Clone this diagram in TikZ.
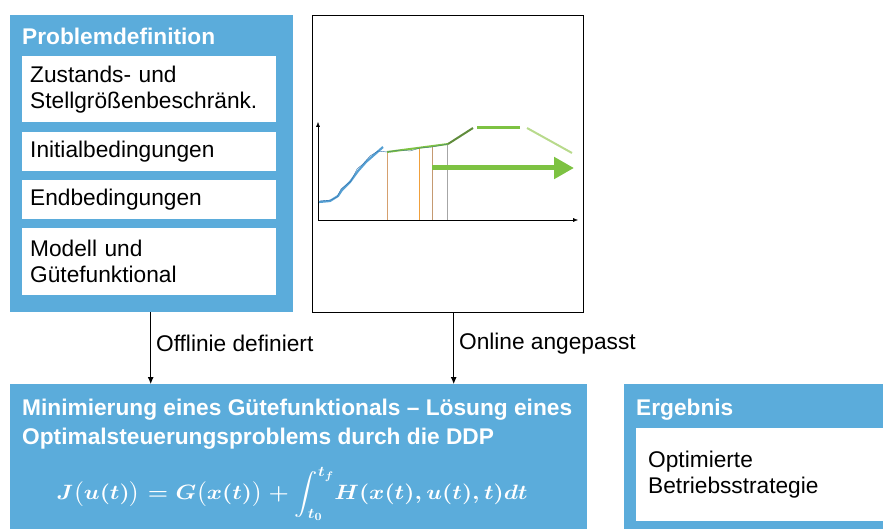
\documentclass[tikz,border=0pt]{standalone}
\usepackage{fontspec}
\setmainfont{Liberation Sans}
\usepackage{amsmath}
\usepackage{graphicx}
\usetikzlibrary{arrows.meta,positioning}

\definecolor{boxblue}{RGB}{91,172,219}
\definecolor{curveblue}{RGB}{86,160,211}
\definecolor{darkblue}{RGB}{46,110,170}
\definecolor{optgreen}{RGB}{125,194,66}
\definecolor{darkgreen}{RGB}{96,140,60}
\definecolor{palegreen}{RGB}{184,218,140}
\definecolor{tan}{RGB}{214,160,110}
\definecolor{orng}{RGB}{240,160,60}

\tikzset{
  bluebox/.style={fill=boxblue, inner sep=0pt, anchor=north west},
  whitebox/.style={fill=white, inner xsep=8pt, inner ysep=0pt, anchor=north west,
    text width=238pt, align=left, font=\fontsize{22.7}{26}\selectfont},
  boxtitle/.style={text=white, font=\fontsize{22.7}{29}\selectfont\bfseries, anchor=base west, inner sep=0pt},
  label/.style={font=\fontsize{22.7}{26}\selectfont, inner sep=0pt},
  flow/.style={-{Latex[length=7pt,width=6pt]}, thick}
}

\begin{document}
\begin{tikzpicture}[x=1pt,y=-1pt]
\useasboundingbox (0,0) rectangle (883,529);

% Problemdefinition
\node [bluebox, minimum width=283pt, minimum height=297pt] (prob) at (10,15) {};
\node [boxtitle] (probtitle) at (22,45) {Problemdefinition};
\node [whitebox, minimum height=66pt] (zust) at (22,56) {Zustands- und\\Stellgrößenbeschränk.};
\node [whitebox, minimum height=39pt] (init) at (22,132) {Initialbedingungen};
\node [whitebox, minimum height=39pt] (endb) at (22,180) {Endbedingungen};
\node [whitebox, minimum height=67pt] (modell) at (22,228) {Modell und\\Gütefunktional};

% Diagramm
\node [draw, inner sep=0pt, anchor=north west, minimum width=271pt, minimum height=297pt] (chart) at (312,15) {};
\draw [-{Latex[length=5pt,width=4pt]}] (318,220) -- (318,122);
\draw [-{Latex[length=5pt,width=4pt]}] (318,220) -- (578,220);
\draw [tan, thick] (387,152) -- (387,220);
\draw [orng, thick] (419,148) -- (419,220);
\draw [tan!80!gray, thick] (432,147) -- (432,220);
\draw [gray!70, thick] (447,144) -- (447,220);
\draw [curveblue, line width=2.2pt] (319,202) -- (330,201) -- (338,196) -- (342,190)
  -- (350,182) -- (358,171) -- (366,162) -- (374,155) -- (383,147);
\draw [darkblue, thin] (320,201) -- (331,200) -- (337,197) -- (341,189) -- (351,181)
  -- (357,169) -- (363,164) -- (370,156) -- (378,151) -- (387,152);
\draw [optgreen, line width=2pt] (387,152) -- (448,144);
\draw [darkblue!60!darkgreen, thin] (387,152) -- (400,150) -- (410,151) -- (420,148) -- (432,147) -- (448,144);
\draw [darkgreen, line width=2pt] (448,144) -- (473,128);
\draw [optgreen, line width=3pt] (477,128) -- (520,128);
\draw [palegreen, line width=2pt] (527,128) -- (572,153);
\draw [optgreen, line width=5pt, -{Triangle[length=20pt,width=21pt]}] (432,168) -- (574,168);

% Optimierung
\node [bluebox, minimum width=577pt, minimum height=150pt] (minim) at (10,384) {};
\node [boxtitle] (mintitle) at (22,415) {Minimierung eines Gütefunktionals – Lösung eines};
\node [boxtitle] (mintitleb) at (22,444) {Optimalsteuerungsproblems durch die DDP};
\node [text=white, inner sep=0pt, font=\fontsize{21.5}{26}\selectfont\boldmath] (formel) at (292,494)
  {\scalebox{1.12}[1]{$J\bigl(u(t)\bigr)=G\bigl(x(t)\bigr)+\displaystyle\int_{t_0}^{t_f}\!H(x(t),u(t),t)dt$}};

% Ergebnis
\node [bluebox, minimum width=270pt, minimum height=150pt] (erg) at (624,384) {};
\node [boxtitle] (ergtitle) at (636,415) {Ergebnis};
\node [whitebox, inner xsep=12pt, text width=230pt, minimum height=93pt] (strat) at (636,428) {Optimierte\\Betriebsstrategie};

% Verbindungen
\draw [flow] ([xshift=-1pt]prob.south) -- ([xshift=-1pt]prob.south |- minim.north)
  node [label, midway, anchor=west, xshift=5pt, yshift=5pt] (offl) {Offlinie definiert};
\draw [flow] ([xshift=6pt]chart.south) -- ([xshift=6pt]chart.south |- minim.north)
  node [label, midway, anchor=west, xshift=5pt, yshift=5pt] (onl) {Online angepasst};
\end{tikzpicture}
\end{document}
